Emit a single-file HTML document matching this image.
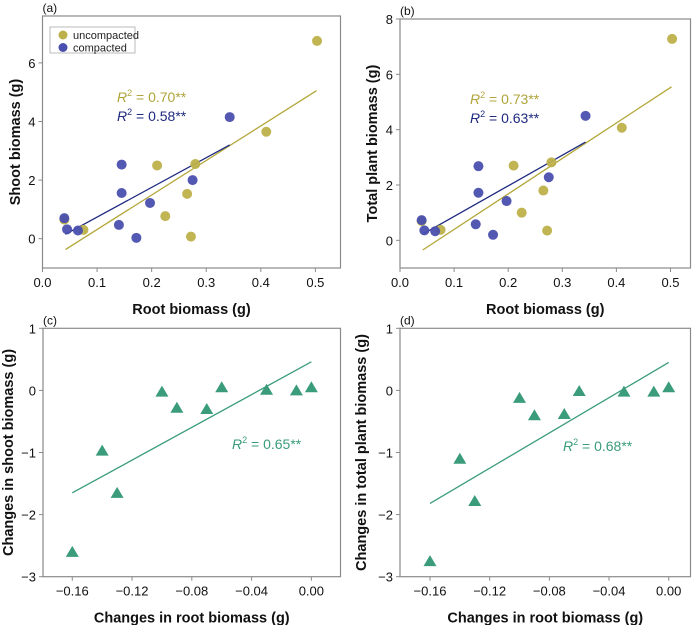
<!DOCTYPE html>
<html><head><meta charset="utf-8">
<style>
body{margin:0;background:#fff;}
svg{display:block;font-family:"Liberation Sans",Arial,sans-serif;}
.tick{font-size:13px;fill:#111;}
.axt{font-size:14.5px;font-weight:bold;fill:#111;}
.pl{font-size:12px;fill:#111;}
</style></head>
<body>
<svg id="chart" width="700" height="625" viewBox="0 0 700 625"></svg>
<script>
const aUncX=[0.04,0.075,0.21,0.225,0.265,0.272,0.28,0.41,0.503];
const aUncY=[0.65,0.3,2.5,0.77,1.53,0.07,2.55,3.65,6.75];
const aComX=[0.04,0.045,0.065,0.14,0.145,0.145,0.172,0.197,0.275,0.343];
const aComY=[0.7,0.32,0.28,0.47,2.53,1.56,0.03,1.22,2.0,4.15];
const aUncLine=[[0.042,-0.37],[0.502,5.05]];
const aComLine=[[0.042,0.15],[0.343,3.2]];
const bUncY=[0.7,0.38,2.7,1.0,1.8,0.35,2.82,4.07,7.28];
const bComY=[0.73,0.36,0.33,0.58,2.68,1.72,0.2,1.42,2.28,4.5];
const bUncLine=[[0.042,-0.35],[0.502,5.55]];
const bComLine=[[0.042,0.22],[0.343,3.55]];
const cdX=[-0.16,-0.14,-0.13,-0.10,-0.09,-0.07,-0.06,-0.03,-0.01,0.0];
const cY=[-2.6,-0.97,-1.65,-0.02,-0.28,-0.3,0.05,0.01,0.0,0.05];
const dY=[-2.75,-1.1,-1.78,-0.12,-0.4,-0.38,-0.01,-0.02,-0.02,0.05];
const cLine=[[-0.16,-1.65],[0,0.46]];
const dLine=[[-0.16,-1.82],[0,0.45]];
const abXTicks=[0,0.1,0.2,0.3,0.4,0.5];
const abXLabels=["0.0","0.1","0.2","0.3","0.4","0.5"];
const aYTicks=[0,2,4,6];
const bYTicks=[0,2,4,6,8];
const cdXTicks=[-0.16,-0.12,-0.08,-0.04,0];
const cdXLabels=["\u22120.16","\u22120.12","\u22120.08","\u22120.04","0.00"];
const cdYTicks=[-3,-2,-1,0,1];
const cdYLabels=["\u22123","\u22122","\u22121","0","1"];

const NS="http://www.w3.org/2000/svg";
const svg=document.getElementById('chart');
function el(t,a,p){const e=document.createElementNS(NS,t);for(const k in a)e.setAttribute(k,a[k]);(p||svg).appendChild(e);return e;}
const UNC="#bdb04a",COM="#4a4fae",UNCL="#b3a73a",COML="#1f2a80",TEAL="#3a9c7a";

function panel(o){
  const g=el('g',{});
  
  
  const sx=v=>o.L+(v-o.xd[0])/(o.xd[1]-o.xd[0])*(o.R-o.L);
  const sy=v=>o.B-(v-o.yd[0])/(o.yd[1]-o.yd[0])*(o.B-o.T);
  const yc=(o.T+o.B)/2;
  const yt=el('text',{x:o.yx,y:yc,'text-anchor':'middle',class:'axt',transform:`rotate(-90 ${o.yx} ${yc})`},g);yt.textContent=o.ytitle;
  
  const fr=el('rect',{x:o.L,y:o.T,width:o.R-o.L,height:o.B-o.T,fill:'none',stroke:'#8a8a8a','stroke-width':1.2},g);
  
  o.xt.forEach((v,i)=>{
    el('line',{x1:sx(v),x2:sx(v),y1:o.B,y2:o.B+4,stroke:'#8a8a8a'},g);
    const t=el('text',{x:sx(v),y:o.B+19,'text-anchor':'middle',class:'tick'},g);t.textContent=o.xl[i];
    
  });
  o.yt.forEach((v,i)=>{
    el('line',{x1:o.L-4,x2:o.L,y1:sy(v),y2:sy(v),stroke:'#8a8a8a'},g);
    const t=el('text',{x:o.L-7,y:sy(v)+5,'text-anchor':'end',class:'tick'},g);t.textContent=o.yl[i];
    
  });
  const pl=el('text',{x:o.L,y:o.T-4,class:'pl'},g);pl.textContent='('+o.id+')';
  
  const xt=el('text',{x:(o.L+o.R)/2,y:o.B+46,'text-anchor':'middle',class:'axt'},g);xt.textContent=o.xtitle;
  
  o.lines.forEach(ln=>{
    const l=el('line',{x1:sx(ln.d[0][0]),y1:sy(ln.d[0][1]),x2:sx(ln.d[1][0]),y2:sy(ln.d[1][1]),stroke:ln.c,'stroke-width':1.3},g);
    
  });
  o.series.forEach(s=>{
    s.x.forEach((xv,i)=>{
      const X=sx(xv),Y=sy(s.y[i]);let m;
      if(s.tri) m=el('polygon',{points:`${X},${Y-6} ${X-6.5},${Y+5} ${X+6.5},${Y+5}`,fill:s.c},g);
      else m=el('circle',{cx:X,cy:Y,r:5,fill:s.c,'fill-opacity':0.95},g);
      
    });
  });
  o.r2.forEach(r=>{
    const t=el('text',{x:r.x,y:r.y,fill:r.c,'font-size':'14px'},g);
    t.innerHTML=`<tspan font-style="italic">R</tspan><tspan font-size="9" dy="-6">2</tspan><tspan dy="6"> = ${r.v}**</tspan>`;
    
  });
  return g;
}
panel({id:'a',L:42.5,R:340.5,T:16,B:268,xd:[0,0.546],yd:[-1,7.6],xt:abXTicks,xl:abXLabels,yt:aYTicks,yl:aYTicks.map(String),
  xtitle:'Root biomass (g)',ytitle:'Shoot biomass (g)',yx:20,
  lines:[{d:aUncLine,c:UNCL,n:'trend-uncompacted'},{d:aComLine,c:COML,n:'trend-compacted'}],
  series:[{x:aUncX,y:aUncY,c:UNC,n:'point-uncompacted'},{x:aComX,y:aComY,c:COM,n:'point-compacted'}],
  r2:[{x:117,y:102,c:'#b0a43a',v:'0.70'},{x:117,y:121,c:'#1f2a80',v:'0.58'}]});
panel({id:'b',L:400,R:690.5,T:19,B:268,xd:[0,0.537],yd:[-1,8],xt:abXTicks,xl:abXLabels,yt:bYTicks,yl:bYTicks.map(String),
  xtitle:'Root biomass (g)',ytitle:'Total plant biomass (g)',yx:377,
  lines:[{d:bUncLine,c:UNCL,n:'trend-uncompacted'},{d:bComLine,c:COML,n:'trend-compacted'}],
  series:[{x:aUncX,y:bUncY,c:UNC,n:'point-uncompacted'},{x:aComX,y:bComY,c:COM,n:'point-compacted'}],
  r2:[{x:470,y:104,c:'#b0a43a',v:'0.73'},{x:470,y:123,c:'#1f2a80',v:'0.63'}]});
panel({id:'c',L:43,R:340.5,T:328.3,B:576.7,xd:[-0.1796,0.0195],yd:[-3,1],xt:cdXTicks,xl:cdXLabels,yt:cdYTicks,yl:cdYLabels,
  xtitle:'Changes in root biomass (g)',ytitle:'Changes in shoot biomass (g)',yx:13,
  lines:[{d:cLine,c:TEAL,n:'trend-line'}],
  series:[{x:cdX,y:cY,c:TEAL,n:'point-change',tri:true}],
  r2:[{x:232,y:449,c:TEAL,v:'0.65'}]});
panel({id:'d',L:400,R:690.5,T:328.3,B:576.7,xd:[-0.1801,0.0146],yd:[-3,1],xt:cdXTicks,xl:cdXLabels,yt:cdYTicks,yl:cdYLabels,
  xtitle:'Changes in root biomass (g)',ytitle:'Changes in total plant biomass (g)',yx:366,
  lines:[{d:dLine,c:TEAL,n:'trend-line'}],
  series:[{x:cdX,y:dY,c:TEAL,n:'point-change',tri:true}],
  r2:[{x:563,y:451,c:TEAL,v:'0.68'}]});
const lg=el('g',{});


el('rect',{x:50,y:27,width:85,height:26,fill:'#fff',stroke:'#aaa','stroke-width':0.8},lg);
const l1=el('circle',{cx:63,cy:35,r:4.5,fill:UNC},lg);

const t1=el('text',{x:73,y:39,'font-size':'11px',fill:'#222'},lg);t1.textContent='uncompacted';

const l2=el('circle',{cx:63,cy:47.5,r:4.5,fill:COM},lg);

const t2=el('text',{x:73,y:51.5,'font-size':'11px',fill:'#222'},lg);t2.textContent='compacted';

</script>
</body></html>
